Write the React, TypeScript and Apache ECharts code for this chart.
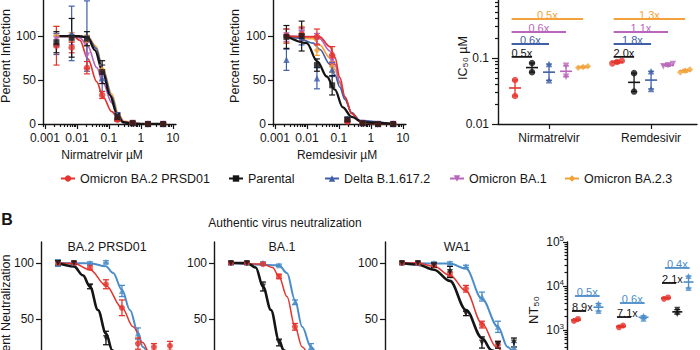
import React, { useEffect, useRef } from 'react';
import * as echarts from 'echarts';

// ================= Panel A : antiviral dose-response =================
const variantNames = ['Omicron BA.2 PRSD01', 'Parental', 'Delta B.1.617.2', 'Omicron BA.1', 'Omicron BA.2.3'];
const concentrationsUM = [0.00229, 0.00686, 0.0206, 0.0617, 0.185, 0.556, 1.67, 5];
const concTickExp = [-3, -2, -1, 0, 1];
const concTickLabels = ['0.001', '0.01', '0.1', '1', '10'];
const infectionTicks = [0, 50, 100];

// mean percent infection (rows: variants in variantNames order)
const nirmMean = [
  [89, 87, 64, 33, 5, 1, 0, 0],
  [93, 98, 97, 59, 8, 1, 0, 0],
  [91, 103, 100, 52, 9, 1, 0, 0],
  [96, 96, 78, 55, 7, 1, 0, 0],
  [100, 99, 95, 62, 9, 1, 0, 0],
];
const nirmSd = [
  [22, 6, 7, 4, 2, 1, 1, 1],
  [12, 22, 8, 13, 4, 1, 1, 1],
  [12, 31, 40, 15, 4, 1, 1, 1],
  [5, 6, 15, 5, 3, 1, 1, 1],
  [11, 5, 6, 5, 3, 1, 1, 1],
];
const remdMean = [
  [100, 102, 99, 78, 3, 1, 0, 0],
  [99, 100, 67, 44, 5, 1, 0, 0],
  [73, 98, 52, 62, 6, 1, 0, 0],
  [101, 104, 97, 72, 4, 1, 0, 0],
  [100, 103, 84, 65, 5, 1, 0, 0],
];
const remdSd = [
  [8, 7, 9, 10, 2, 1, 1, 1],
  [13, 17, 7, 11, 2, 1, 1, 1],
  [12, 8, 12, 8, 2, 1, 1, 1],
  [7, 6, 6, 6, 2, 1, 1, 1],
  [8, 8, 6, 6, 2, 1, 1, 1],
];
// fitted curves: [concentration µM, percent]
const nirmCurves = [
  [[0.00229, 100], [0.0079, 99.5], [0.0124, 95], [0.0221, 74], [0.042, 48], [0.065, 31], [0.124, 14], [0.19, 7], [0.3, 2], [1, 0.3], [5, 0]],
  [[0.00229, 100], [0.0124, 99.8], [0.0221, 98], [0.0364, 84], [0.065, 59], [0.107, 33], [0.178, 12], [0.275, 2], [0.6, 0.2], [5, 0]],
  [[0.00229, 100], [0.0124, 99.8], [0.0221, 98.5], [0.04, 86], [0.065, 61], [0.124, 31], [0.19, 10], [0.3, 2], [1, 0.1], [5, 0]],
  [[0.00229, 100], [0.0079, 99.5], [0.0124, 98], [0.0221, 88], [0.042, 64], [0.065, 47], [0.124, 24], [0.19, 9], [0.3, 2], [1, 0.1], [5, 0]],
  [[0.00229, 100], [0.0124, 99.8], [0.0221, 99], [0.04, 88], [0.065, 63], [0.124, 34], [0.2, 11], [0.3, 3], [1, 0.2], [5, 0]],
];
const remdCurves = [
  [[0.00229, 100], [0.0251, 99], [0.0525, 88], [0.075, 76], [0.107, 53], [0.155, 31], [0.251, 12], [0.457, 3], [1, 0.5], [5, 0]],
  [[0.00229, 100], [0.0098, 92], [0.0214, 71], [0.0417, 54], [0.075, 39], [0.133, 19], [0.251, 8], [0.562, 2], [5, 0]],
  [[0.00229, 100], [0.005, 98], [0.0158, 92], [0.0251, 85], [0.0525, 68], [0.075, 56], [0.107, 42], [0.155, 28], [0.251, 13], [0.457, 4], [5, 0]],
  [[0.00229, 100], [0.0158, 99.5], [0.0251, 97], [0.0525, 83], [0.075, 68], [0.107, 48], [0.155, 30], [0.251, 12], [0.457, 3], [5, 0]],
  [[0.00229, 100], [0.0158, 97], [0.0251, 90], [0.0525, 75], [0.075, 62], [0.107, 46], [0.155, 29], [0.251, 12], [0.457, 3], [5, 0]],
];

// IC50 (µM), replicates per variant
const ic50Drugs = ['Nirmatrelvir', 'Remdesivir'];
const ic50Nirm = [[0.0464, 0.0266], [0.084, 0.061], [0.081, 0.046], [0.076, 0.052], [0.071, 0.073, 0.075]];
const ic50Remd = [[0.083, 0.087, 0.091], [0.059, 0.031], [0.063, 0.034], [0.075, 0.078, 0.081], [0.061, 0.064, 0.067]];
const ic50TickExp = [-2, -1];
const ic50TickLabels = ['0.01', '0.1'];
const foldNirm = ['0.5x', '0.6x', '0.6x', '0.5x']; // vs Parental, Delta, BA.1, BA.2.3
const foldRemd = ['2.0x', '1.8x', '1.1x', '1.3x'];
const foldLevelsA = [0.104, 0.163, 0.248, 0.39];

// ================= Panel B : authentic virus neutralization =================
const neutTitles = ['BA.2 PRSD01', 'BA.1', 'WA1'];
const dilutionSteps = [0, 1, 2, 3, 4, 5, 6, 7];
const neutTicks = [50, 100];
// rows: red, black, blue
const neutMean = [
  [[100, 100, 96, 81, 60, 28, 25, 26], [100, 100, 79, 33, 8, 2, 1, 0], [100, 100, 100, 101, 75, 37, 12, 5]],
  [[100, 100, 99, 88, 43, 12, 3, 1], [100, 100, 79, 29, 5, 1, 0, 0], [100, 100, 100, 98, 65, 25, 8, 2]],
  [[100, 100, 98, 90, 77, 45, 27, 20], [100, 100, 98, 92, 55, 29, 27, 29], [100, 100, 100, 100, 97, 70, 43, 25]],
];
const neutSd = [
  [[2, 1, 2, 4, 7, 5, 3, 4], [2, 1, 2, 6, 2, 1, 1, 1], [3, 1, 1, 1, 5, 5, 3, 2]],
  [[1, 1, 1, 2, 3, 3, 2, 1], [1, 1, 4, 3, 2, 1, 1, 1], [1, 1, 1, 1, 2, 3, 2, 1]],
  [[1, 1, 1, 2, 3, 3, 3, 2], [1, 1, 2, 5, 2, 5, 3, 4], [1, 1, 1, 1, 1, 4, 5, 4]],
];
const neutCurves = [
  [
    [[0, 100], [1, 99.5], [2, 94], [3, 80], [4, 60], [4.7, 43], [5.3, 29], [5.7, 20], [6.5, 10]],
    [[0, 100], [1, 97], [1.56, 89], [2, 79], [2.5, 58], [3, 37], [3.4, 22], [4, 5], [5, 1]],
    [[0, 100], [2, 99.8], [3, 97], [3.45, 91], [4, 76], [4.5, 58], [5, 38], [5.3, 25], [5.8, 12]],
  ],
  [
    [[0, 100], [2, 99], [2.6, 96], [3, 88], [3.5, 70], [4, 43], [4.45, 25], [5, 10]],
    [[0, 100], [1, 100], [1.55, 96], [2, 79], [2.5, 58], [3, 31], [3.3, 22], [4, 5]],
    [[0, 100], [3, 98], [3.5, 91], [4, 67], [4.45, 43], [5, 25], [5.5, 12]],
  ],
  [
    [[0, 100], [1, 100], [2, 97], [3, 89], [4, 75], [5, 46], [5.9, 25], [6.5, 14]],
    [[0, 100], [1, 98.5], [2, 94], [3, 84], [4, 58], [5, 33], [5.6, 22], [6.5, 8]],
    [[0, 100], [3, 99.5], [4, 95], [5, 68], [6, 43], [6.6, 25], [7.2, 12]],
  ],
];
// NT50 replicates per virus (red, black, blue)
const nt50Red = [[1600, 1780], [1150, 1260], [5100, 5500]];
const nt50Black = [[180, 200], [160, 180], [2300, 2900]];
const nt50Blue = [[2700, 4000], [1800, 2100], [9000, 16800]];
const nt50TickExp = [3, 4, 5];
const nt50TickBase = '10';
const nt50FoldBlue = ['0.5x', '0.6x', '0.4x'];
const nt50FoldBlack = ['8.9x', '7.1x', '2.1x'];
const nt50FoldBlueLevel = [5920, 4100, 25700];
const nt50FoldBlackLevel = [2700, 1970, 11700];

// ================= styling =================
const FONT = '"Liberation Sans", Arial, Helvetica, sans-serif';
const INK = '#161616';
const colorsA = ['#e5342d', '#151515', '#3f5fa8', '#b866bb', '#f3a23b'];
const symbolsA = ['circle', 'rect', 'triangle', 'triangle', 'diamond'];
const rotA = [0, 0, 0, 180, 0];
const widthsA = [1.7, 2.3, 1.7, 1.7, 1.7];
const colorsB = ['#e5342d', '#151515', '#4b8dc9'];
const symbolsB = ['circle', 'triangle', 'triangle'];
const rotB = [0, 180, 0];
const widthsB = [1.5, 2.6, 2];
const A_X_MIN = -3.06;
const A_X_MAX = 1.1;
const B_X_MIN = -1.06;
const B_X_MAX = 8.94;
const ic50Pos = [[1, 2, 3, 4, 5], [7, 8, 9, 10, 11]];
const nt50Centers = [1.8, 5.8, 9.8];

const log10 = Math.log10;
const axisLine = { show: true, onZero: false, lineStyle: { color: INK, width: 1.4 } };
const tickLine = { color: INK, width: 1.2 };
const labelStyle = { color: INK, fontSize: 12, fontFamily: FONT };

function minorLogTicks(lo: number, hi: number) {
  const out: number[] = [];
  for (let n = Math.floor(lo); n <= Math.ceil(hi); n++) {
    for (let k = 2; k <= 9; k++) {
      const v = n + log10(k);
      if (v > lo && v < hi) out.push(v);
    }
  }
  return out;
}

function barsSeries(xi: number, yi: number, color: string, data: number[][], halfMean: number, halfCap: number, lw: number) {
  return {
    type: 'custom', xAxisIndex: xi, yAxisIndex: yi, silent: true, z: 3, data,
    encode: { x: 0, y: [1, 2, 3] },
    renderItem: (params: any, api: any) => {
      const x = api.value(0);
      const lo = api.coord([x, api.value(1)]);
      const hi = api.coord([x, api.value(2)]);
      const m = api.coord([x, api.value(3)]);
      const st = { stroke: color, lineWidth: lw };
      const children: any[] = [
        { type: 'line', shape: { x1: lo[0], y1: lo[1], x2: hi[0], y2: hi[1] }, style: st },
        { type: 'line', shape: { x1: lo[0] - halfCap, y1: lo[1], x2: lo[0] + halfCap, y2: lo[1] }, style: st },
        { type: 'line', shape: { x1: hi[0] - halfCap, y1: hi[1], x2: hi[0] + halfCap, y2: hi[1] }, style: st },
      ];
      if (halfMean > 0) children.push({ type: 'line', shape: { x1: m[0] - halfMean, y1: m[1], x2: m[0] + halfMean, y2: m[1] }, style: { stroke: color, lineWidth: lw + 0.3 } });
      return { type: 'group', children };
    },
  };
}

function foldSeries(xi: number, yi: number, specs: any[]) {
  return {
    type: 'custom', xAxisIndex: xi, yAxisIndex: yi, silent: true, z: 4,
    data: specs.map((s) => [s.x1, s.y, s.x2]),
    encode: { x: [0, 2], y: 1 },
    renderItem: (params: any, api: any) => {
      const s = specs[params.dataIndex];
      const a = api.coord([api.value(0), api.value(1)]);
      const b = api.coord([api.value(2), api.value(1)]);
      const left = s.align === 'left';
      return {
        type: 'group',
        children: [
          { type: 'line', shape: { x1: a[0], y1: a[1], x2: b[0], y2: b[1] }, style: { stroke: s.color, lineWidth: 1.8 } },
          { type: 'text', x: left ? a[0] : (a[0] + b[0]) / 2, y: a[1] + 1.5, style: { text: s.text, fill: s.color, font: `11px ${FONT}`, align: left ? 'left' : 'center', verticalAlign: 'bottom' } },
        ],
      };
    },
  };
}

function replicateOffsets(vals: number[], spread: number) {
  const logs = vals.map(log10);
  const range = Math.max(...logs) - Math.min(...logs);
  if (vals.length >= 3) return vals.map((_, i) => (i - (vals.length - 1) / 2) * spread);
  if (range < 0.06) return vals.map((_, i) => (i - (vals.length - 1) / 2) * spread * 1.2);
  return vals.map(() => 0);
}

function txt(text: string, x: number, y: number, size = 12, rotate = false, weight = 'normal') {
  return {
    type: 'text', x, y, rotation: rotate ? Math.PI / 2 : 0, silent: true,
    style: { text, fill: INK, font: `${weight} ${size}px ${FONT}`, align: 'center', verticalAlign: 'middle' },
  };
}

function buildOption() {
  const grid = [
    { left: 43, top: 0, width: 133, height: 124 },
    { left: 273, top: 0, width: 133, height: 124 },
    { left: 498, top: 0, width: 199, height: 124 },
    { left: 41, top: 242, width: 160, height: 108 },
    { left: 214, top: 242, width: 160, height: 108 },
    { left: 385, top: 242, width: 160, height: 108 },
    { left: 567, top: 242, width: 133, height: 108 },
  ].map((g) => ({ ...g, outerBoundsMode: 'none', containLabel: false }));

  const concMajor = (gi: number) => ({
    gridIndex: gi, type: 'value', position: 'bottom', min: A_X_MIN, max: A_X_MAX, axisLine,
    axisTick: { show: true, customValues: concTickExp, length: 5, lineStyle: tickLine },
    axisLabel: { show: true, customValues: concTickExp, margin: 8, ...labelStyle, formatter: (v: number) => concTickLabels[concTickExp.indexOf(Math.round(v))] },
    splitLine: { show: false },
  });
  const concMinor = (gi: number) => ({
    gridIndex: gi, type: 'value', position: 'bottom', min: A_X_MIN, max: A_X_MAX,
    axisLine: { show: false, onZero: false },
    axisTick: { show: true, customValues: minorLogTicks(A_X_MIN, A_X_MAX), length: 3, lineStyle: tickLine },
    axisLabel: { show: false }, splitLine: { show: false },
  });
  const hiddenX = (gi: number, min: number, max: number) => ({ gridIndex: gi, type: 'value', min, max, show: false, axisLine: { onZero: false }, splitLine: { show: false } });

  const xAxis = [
    concMajor(0), concMinor(0), concMajor(1), concMinor(1),
    {
      gridIndex: 2, type: 'value', position: 'bottom', min: 0, max: 11.7, axisLine,
      axisTick: { show: true, customValues: [3, 9], length: 5, lineStyle: tickLine },
      axisLabel: { show: true, customValues: [3, 9], margin: 8, ...labelStyle, formatter: (v: number) => ic50Drugs[v < 6 ? 0 : 1] },
      splitLine: { show: false },
    },
    hiddenX(3, B_X_MIN, B_X_MAX), hiddenX(4, B_X_MIN, B_X_MAX), hiddenX(5, B_X_MIN, B_X_MAX),
    hiddenX(6, 0, 11.82),
  ];

  const pctAxis = (gi: number) => ({
    gridIndex: gi, type: 'value', position: 'left', min: 0, max: 141, axisLine,
    axisTick: { show: true, customValues: infectionTicks, length: 5, lineStyle: tickLine },
    axisLabel: { show: true, customValues: infectionTicks, margin: 7, ...labelStyle },
    splitLine: { show: false },
  });
  const neutAxis = (gi: number) => ({
    gridIndex: gi, type: 'value', position: 'left', min: 22.3, max: 118.75, axisLine,
    axisTick: { show: true, customValues: neutTicks, length: 5, lineStyle: tickLine },
    axisLabel: { show: true, customValues: neutTicks, margin: 7, ...labelStyle },
    splitLine: { show: false },
  });
  const logMinorY = (gi: number, min: number, max: number, len: number) => ({
    gridIndex: gi, type: 'value', position: 'left', min, max,
    axisLine: { show: false, onZero: false },
    axisTick: { show: true, customValues: minorLogTicks(min, max), length: len, lineStyle: tickLine },
    axisLabel: { show: false }, splitLine: { show: false },
  });
  const IC_MIN = -2, IC_MAX = -0.121, NT_MIN = 2.545, NT_MAX = 5;
  const yAxis = [
    pctAxis(0), pctAxis(1),
    {
      gridIndex: 2, type: 'value', position: 'left', min: IC_MIN, max: IC_MAX, axisLine,
      axisTick: { show: true, customValues: ic50TickExp, length: 6, lineStyle: tickLine },
      axisLabel: { show: true, customValues: ic50TickExp, margin: 9, ...labelStyle, formatter: (v: number) => ic50TickLabels[ic50TickExp.indexOf(Math.round(v))] },
      splitLine: { show: false },
    },
    logMinorY(2, IC_MIN, IC_MAX, 3),
    neutAxis(3), neutAxis(4), neutAxis(5),
    {
      gridIndex: 6, type: 'value', position: 'left', min: NT_MIN, max: NT_MAX, axisLine,
      axisTick: { show: true, customValues: nt50TickExp, length: 4, lineStyle: tickLine },
      axisLabel: {
        show: true, customValues: nt50TickExp, showMaxLabel: true, showMinLabel: true, margin: 3, ...labelStyle,
        formatter: (v: number) => `{b|${nt50TickBase}}{s|${Math.round(v)}}`,
        rich: {
          b: { fontSize: 12, color: INK, fontFamily: FONT },
          s: { fontSize: 8, color: INK, fontFamily: FONT, padding: [0, 0, 7, 0] },
        },
      },
      splitLine: { show: false },
    },
    logMinorY(6, NT_MIN, NT_MAX, 2.5),
  ];

  const series: any[] = [];
  const drawOrder = [4, 3, 2, 0, 1];
  const panelsA = [
    { xi: 0, yi: 0, mean: nirmMean, sd: nirmSd, curves: nirmCurves },
    { xi: 2, yi: 1, mean: remdMean, sd: remdSd, curves: remdCurves },
  ];
  panelsA.forEach((p, pi) => {
    drawOrder.forEach((v) => {
      series.push({
        type: 'line', name: pi === 0 ? variantNames[v] : `remd-${v}`, xAxisIndex: p.xi, yAxisIndex: p.yi,
        data: p.curves[v].map(([c, y]) => [log10(c), y]),
        smooth: 0.35, smoothMonotone: 'x', symbol: symbolsA[v], symbolRotate: rotA[v], symbolSize: 7, showSymbol: false,
        lineStyle: { color: colorsA[v], width: widthsA[v] }, itemStyle: { color: colorsA[v] }, silent: true, z: 2,
      });
    });
    drawOrder.forEach((v) => {
      series.push(barsSeries(p.xi, p.yi, colorsA[v],
        concentrationsUM.map((c, i) => [log10(c), p.mean[v][i] - p.sd[v][i], p.mean[v][i] + p.sd[v][i], p.mean[v][i]]), 0, 3, 1.2));
      series.push({
        type: 'scatter', xAxisIndex: p.xi, yAxisIndex: p.yi, silent: true, z: 4,
        data: concentrationsUM.map((c, i) => [log10(c), p.mean[v][i]]),
        symbol: symbolsA[v], symbolRotate: rotA[v], symbolSize: v === 1 ? 6 : 6.5, itemStyle: { color: colorsA[v] },
      });
    });
  });

  // IC50 panel
  [0, 1, 2, 3, 4].forEach((v) => {
    const pts: number[][] = [];
    const bars: number[][] = [];
    [ic50Nirm, ic50Remd].forEach((grp, gi) => {
      const reps = grp[v];
      const x = ic50Pos[gi][v];
      const offs = replicateOffsets(reps, 0.28);
      reps.forEach((r, k) => pts.push([x + offs[k], log10(r)]));
      const logs = reps.map(log10);
      bars.push([x, Math.min(...logs), Math.max(...logs), logs.reduce((a, b) => a + b, 0) / logs.length]);
    });
    series.push(barsSeries(4, 2, colorsA[v], bars, 6, 3, 1.3));
    series.push({ type: 'scatter', xAxisIndex: 4, yAxisIndex: 2, silent: true, z: 4, data: pts, symbol: symbolsA[v] === 'rect' ? 'circle' : symbolsA[v], symbolRotate: rotA[v], symbolSize: 6.5, itemStyle: { color: colorsA[v] } });
  });
  const foldSpecsA: any[] = [];
  [foldNirm, foldRemd].forEach((labels, gi) => labels.forEach((t, k) => {
    foldSpecsA.push({ x1: ic50Pos[gi][0] - 0.2, x2: ic50Pos[gi][k + 1], y: log10(foldLevelsA[k]), text: t, color: colorsA[k + 1] });
  }));
  series.push(foldSeries(4, 2, foldSpecsA));

  // Neutralization curves
  const orderB = [2, 0, 1];
  neutCurves.forEach((panel, pi) => {
    const xi = 5 + pi, yi = 4 + pi;
    orderB.forEach((v) => {
      series.push({
        type: 'line', name: `neut-${pi}-${v}`, xAxisIndex: xi, yAxisIndex: yi, data: panel[v],
        smooth: 0.35, smoothMonotone: 'x', showSymbol: false, symbol: 'none',
        lineStyle: { color: colorsB[v], width: widthsB[v] }, silent: true, z: 2,
      });
    });
    orderB.forEach((v) => {
      series.push(barsSeries(xi, yi, colorsB[v],
        dilutionSteps.map((d, i) => [d, neutMean[pi][v][i] - neutSd[pi][v][i], neutMean[pi][v][i] + neutSd[pi][v][i], neutMean[pi][v][i]]), 0, 3, 1.3));
      series.push({
        type: 'scatter', xAxisIndex: xi, yAxisIndex: yi, silent: true, z: 4,
        data: dilutionSteps.map((d, i) => [d, neutMean[pi][v][i]]),
        symbol: symbolsB[v], symbolRotate: rotB[v], symbolSize: 6, itemStyle: { color: colorsB[v] },
      });
    });
  });

  // NT50 panel
  [nt50Red, nt50Black, nt50Blue].forEach((groups, v) => {
    const pts: number[][] = [];
    const bars: number[][] = [];
    groups.forEach((reps, g) => {
      const x = nt50Centers[g] + (v - 1);
      const offs = replicateOffsets(reps, 0.3);
      reps.forEach((r, k) => pts.push([x + offs[k], log10(r)]));
      const logs = reps.map(log10);
      bars.push([x, Math.min(...logs), Math.max(...logs), logs.reduce((a, b) => a + b, 0) / logs.length]);
    });
    series.push(barsSeries(8, 7, colorsB[v], bars, 5, 3, 1.3));
    series.push({ type: 'scatter', xAxisIndex: 8, yAxisIndex: 7, silent: true, z: 4, clip: true, data: pts, symbol: symbolsB[v], symbolRotate: rotB[v], symbolSize: 6, itemStyle: { color: colorsB[v] } });
  });
  const foldSpecsB: any[] = [];
  nt50Centers.forEach((c, g) => {
    foldSpecsB.push({ x1: c - 1.1, x2: c + 1.1, y: log10(nt50FoldBlueLevel[g]), text: nt50FoldBlue[g], color: colorsB[2] });
    foldSpecsB.push({ x1: c - 1.36, x2: c - 0.1, y: log10(nt50FoldBlackLevel[g]), text: nt50FoldBlack[g], color: colorsB[1], align: 'left' });
  });
  series.push(foldSeries(8, 7, foldSpecsB));

  const legendLeft = [60, 228, 324, 449, 564];
  const legend = variantNames.map((name, i) => ({
    data: [name], left: legendLeft[i], top: 172, orient: 'horizontal', itemWidth: 14, itemHeight: 8, itemGap: 0,
    padding: 0, selectedMode: false, textStyle: { fontSize: 12.5, color: INK, fontFamily: FONT },
  }));

  const graphic = [
    txt('Percent Infection', 6, 56, 12.5, true),
    txt('Percent Infection', 235, 56, 12.5, true),
    txt('Nirmatrelvir µM', 102, 155, 12),
    txt('Remdesivir µM', 337, 155, 12),
    txt('IC₅₀ µM', 463, 58, 12.5, true),
    txt('B', 7, 219, 16, false, 'bold'),
    txt('Authentic virus neutralization', 285, 223, 12),
    txt(neutTitles[0], 107, 247, 12.5),
    txt(neutTitles[1], 282, 247, 12.5),
    txt(neutTitles[2], 457, 247, 12.5),
    txt('Percent Neutralization', 6, 316, 12.5, true),
    txt('NT₅₀', 533, 310, 13, true),
  ];

  return {
    animation: false,
    backgroundColor: '#ffffff',
    textStyle: { fontFamily: FONT },
    grid, xAxis, yAxis, series, legend, graphic,
  };
}

export default function App() {
  const ref = useRef<HTMLDivElement>(null);
  useEffect(() => {
    if (!ref.current) return;
    const chart = echarts.init(ref.current, null, { renderer: 'svg' });
    chart.setOption(buildOption() as any);
    return () => chart.dispose();
  }, []);
  return <div ref={ref} style={{ position: 'fixed', left: 0, top: 0, width: 700, height: 350, background: '#fff' }} />;
}
